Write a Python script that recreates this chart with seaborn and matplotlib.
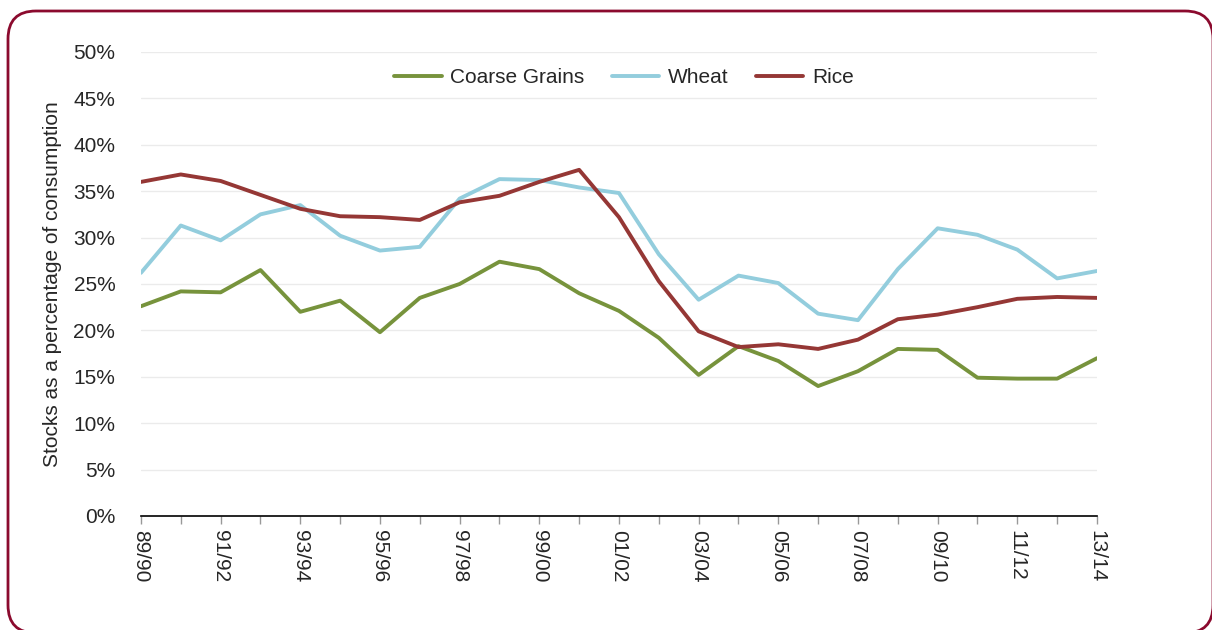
import numpy as np
import pandas as pd
import matplotlib.pyplot as plt
import seaborn as sns
from matplotlib.patches import FancyBboxPatch
from matplotlib.ticker import PercentFormatter

# Marketing years 89/90 .. 13/14
years = ['89/90', '90/91', '91/92', '92/93', '93/94', '94/95', '95/96', '96/97',
         '97/98', '98/99', '99/00', '00/01', '01/02', '02/03', '03/04', '04/05',
         '05/06', '06/07', '07/08', '08/09', '09/10', '10/11', '11/12', '12/13', '13/14']

# Stocks as % of consumption
coarse_grains = [22.6, 24.2, 24.1, 26.5, 22.0, 23.2, 19.8, 23.5, 25.0, 27.4, 26.6, 24.0, 22.1,
                 19.2, 15.2, 18.3, 16.7, 14.0, 15.6, 18.0, 17.9, 14.9, 14.8, 14.8, 17.0]
wheat = [26.2, 31.3, 29.7, 32.5, 33.5, 30.2, 28.6, 29.0, 34.2, 36.3, 36.2, 35.4, 34.8,
         28.2, 23.3, 25.9, 25.1, 21.8, 21.1, 26.6, 31.0, 30.3, 28.7, 25.6, 26.4]
rice = [36.0, 36.8, 36.1, 34.6, 33.1, 32.3, 32.2, 31.9, 33.8, 34.5, 36.0, 37.3, 32.2,
        25.3, 19.9, 18.2, 18.5, 18.0, 19.0, 21.2, 21.7, 22.5, 23.4, 23.6, 23.5]

series = {'Coarse Grains': coarse_grains, 'Wheat': wheat, 'Rice': rice}
colors = {'Coarse Grains': '#77933C', 'Wheat': '#93CDDD', 'Rice': '#953735'}

df = pd.DataFrame(series)
df['idx'] = np.arange(len(years))
long_df = df.melt(id_vars='idx', var_name='Crop', value_name='Stocks')

sns.set_style('white')
plt.rcParams['font.family'] = ['Liberation Sans', 'DejaVu Sans']

fig = plt.figure(figsize=(12.12, 6.3), dpi=100)

# Rounded frame around the chart, drawn in pixel units on a full-figure axes
bg = fig.add_axes([0, 0, 1, 1], zorder=-1)
bg.set_xlim(0, 1212)
bg.set_ylim(0, 630)
bg.axis('off')
bg.add_patch(FancyBboxPatch((8, -3), 1205, 622,
                            boxstyle='round,pad=0,rounding_size=28',
                            facecolor='none', edgecolor='#8B0A2E', linewidth=2.0,
                            clip_on=False))

ax = fig.add_axes([0.1163, 0.181, 0.7888, 0.7365])
ax.patch.set_alpha(0)

sns.lineplot(data=long_df, x='idx', y='Stocks', hue='Crop', palette=colors,
             linewidth=2.8, ax=ax)

ax.set_xlim(0, len(years) - 1)
ax.set_ylim(0, 50)
ax.set_yticks(np.arange(0, 51, 5))
ax.yaxis.set_major_formatter(PercentFormatter(decimals=0))
ax.set_xticks(np.arange(len(years)))
ax.set_xticklabels([y if i % 2 == 0 else '' for i, y in enumerate(years)],
                   rotation=-90, fontsize=15)
ax.tick_params(axis='x', direction='out', length=6, width=1, color='#999999', pad=4, bottom=True)
ax.tick_params(axis='y', labelsize=15, left=False, pad=15)

ax.grid(axis='y', color='#EBEBEB', linewidth=1)
ax.set_axisbelow(True)
for s in ['top', 'right', 'left']:
    ax.spines[s].set_visible(False)
ax.spines['bottom'].set_color('black')
ax.spines['bottom'].set_linewidth(1.2)

ax.set_xlabel('')
ax.set_ylabel('Stocks as a percentage of consumption', fontsize=15, labelpad=8)

ax.legend(title=None, loc='upper center', bbox_to_anchor=(0.505, 1.005), ncol=3,
          frameon=False, fontsize=15, handlelength=2.3, columnspacing=1.3, handletextpad=0.4)

fig.savefig('out.png', dpi=100)
